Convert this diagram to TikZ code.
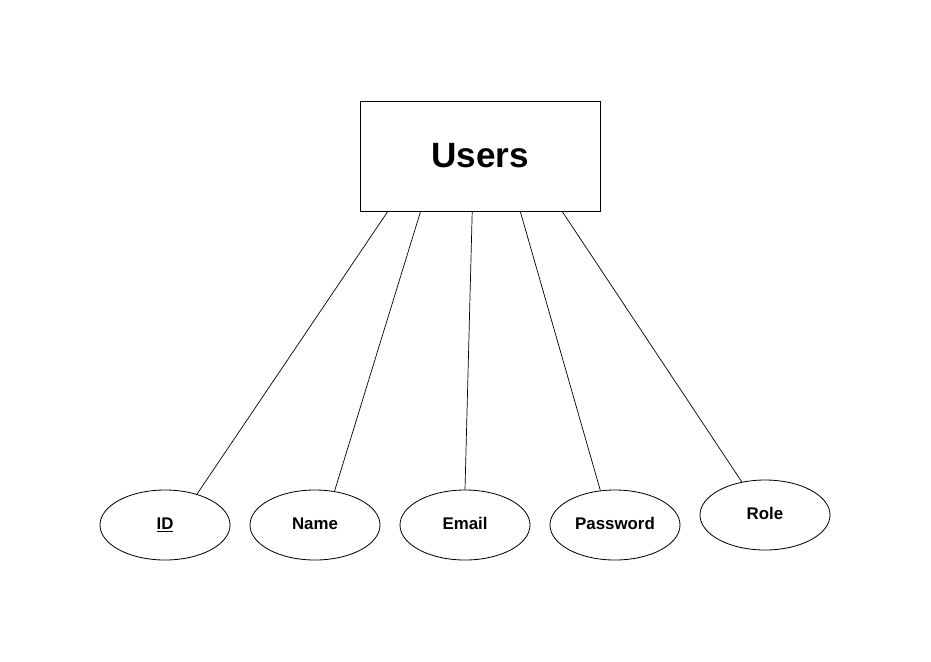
\documentclass[tikz,border=0pt]{standalone}
\usepackage{fontspec}
\setmainfont{Liberation Sans}
\usetikzlibrary{shapes.geometric}

\begin{document}
\begin{tikzpicture}[x=0.03cm, y=-0.03cm,
  entity/.style={draw, line width=0.7pt, minimum width=7.2cm, minimum height=3.3cm, inner sep=0pt, font=\fontsize{30}{36}\selectfont\bfseries},
  attrib/.style={draw, line width=0.7pt, ellipse, minimum width=3.9cm, minimum height=2.1cm, inner sep=0pt, text height=0.72em, text depth=0pt, font=\fontsize{14.4}{17}\selectfont\bfseries},
  link/.style={line width=0.6pt}]
\useasboundingbox (0,0) rectangle (931,661);
% entity
\node [entity] (users) at (480,156) {Users};
% attributes
\node [attrib] (id) at (165,525) {\underline{ID}};
\node [attrib] (name) at (315,525) {Name};
\node [attrib] (email) at (465,525) {Email};
\node [attrib] (password) at (615,525) {Password};
\node [attrib] (role) at (765,515) {Role};
% links
\draw [link] (users.211) -- (id.44);
\draw [link] (users.223) -- (name.60);
\draw [link] (users.262) -- (email.90);
\draw [link] (users.306) -- (password.113);
\draw [link] (users.326.5) -- (role.125.5);
\end{tikzpicture}
\end{document}
